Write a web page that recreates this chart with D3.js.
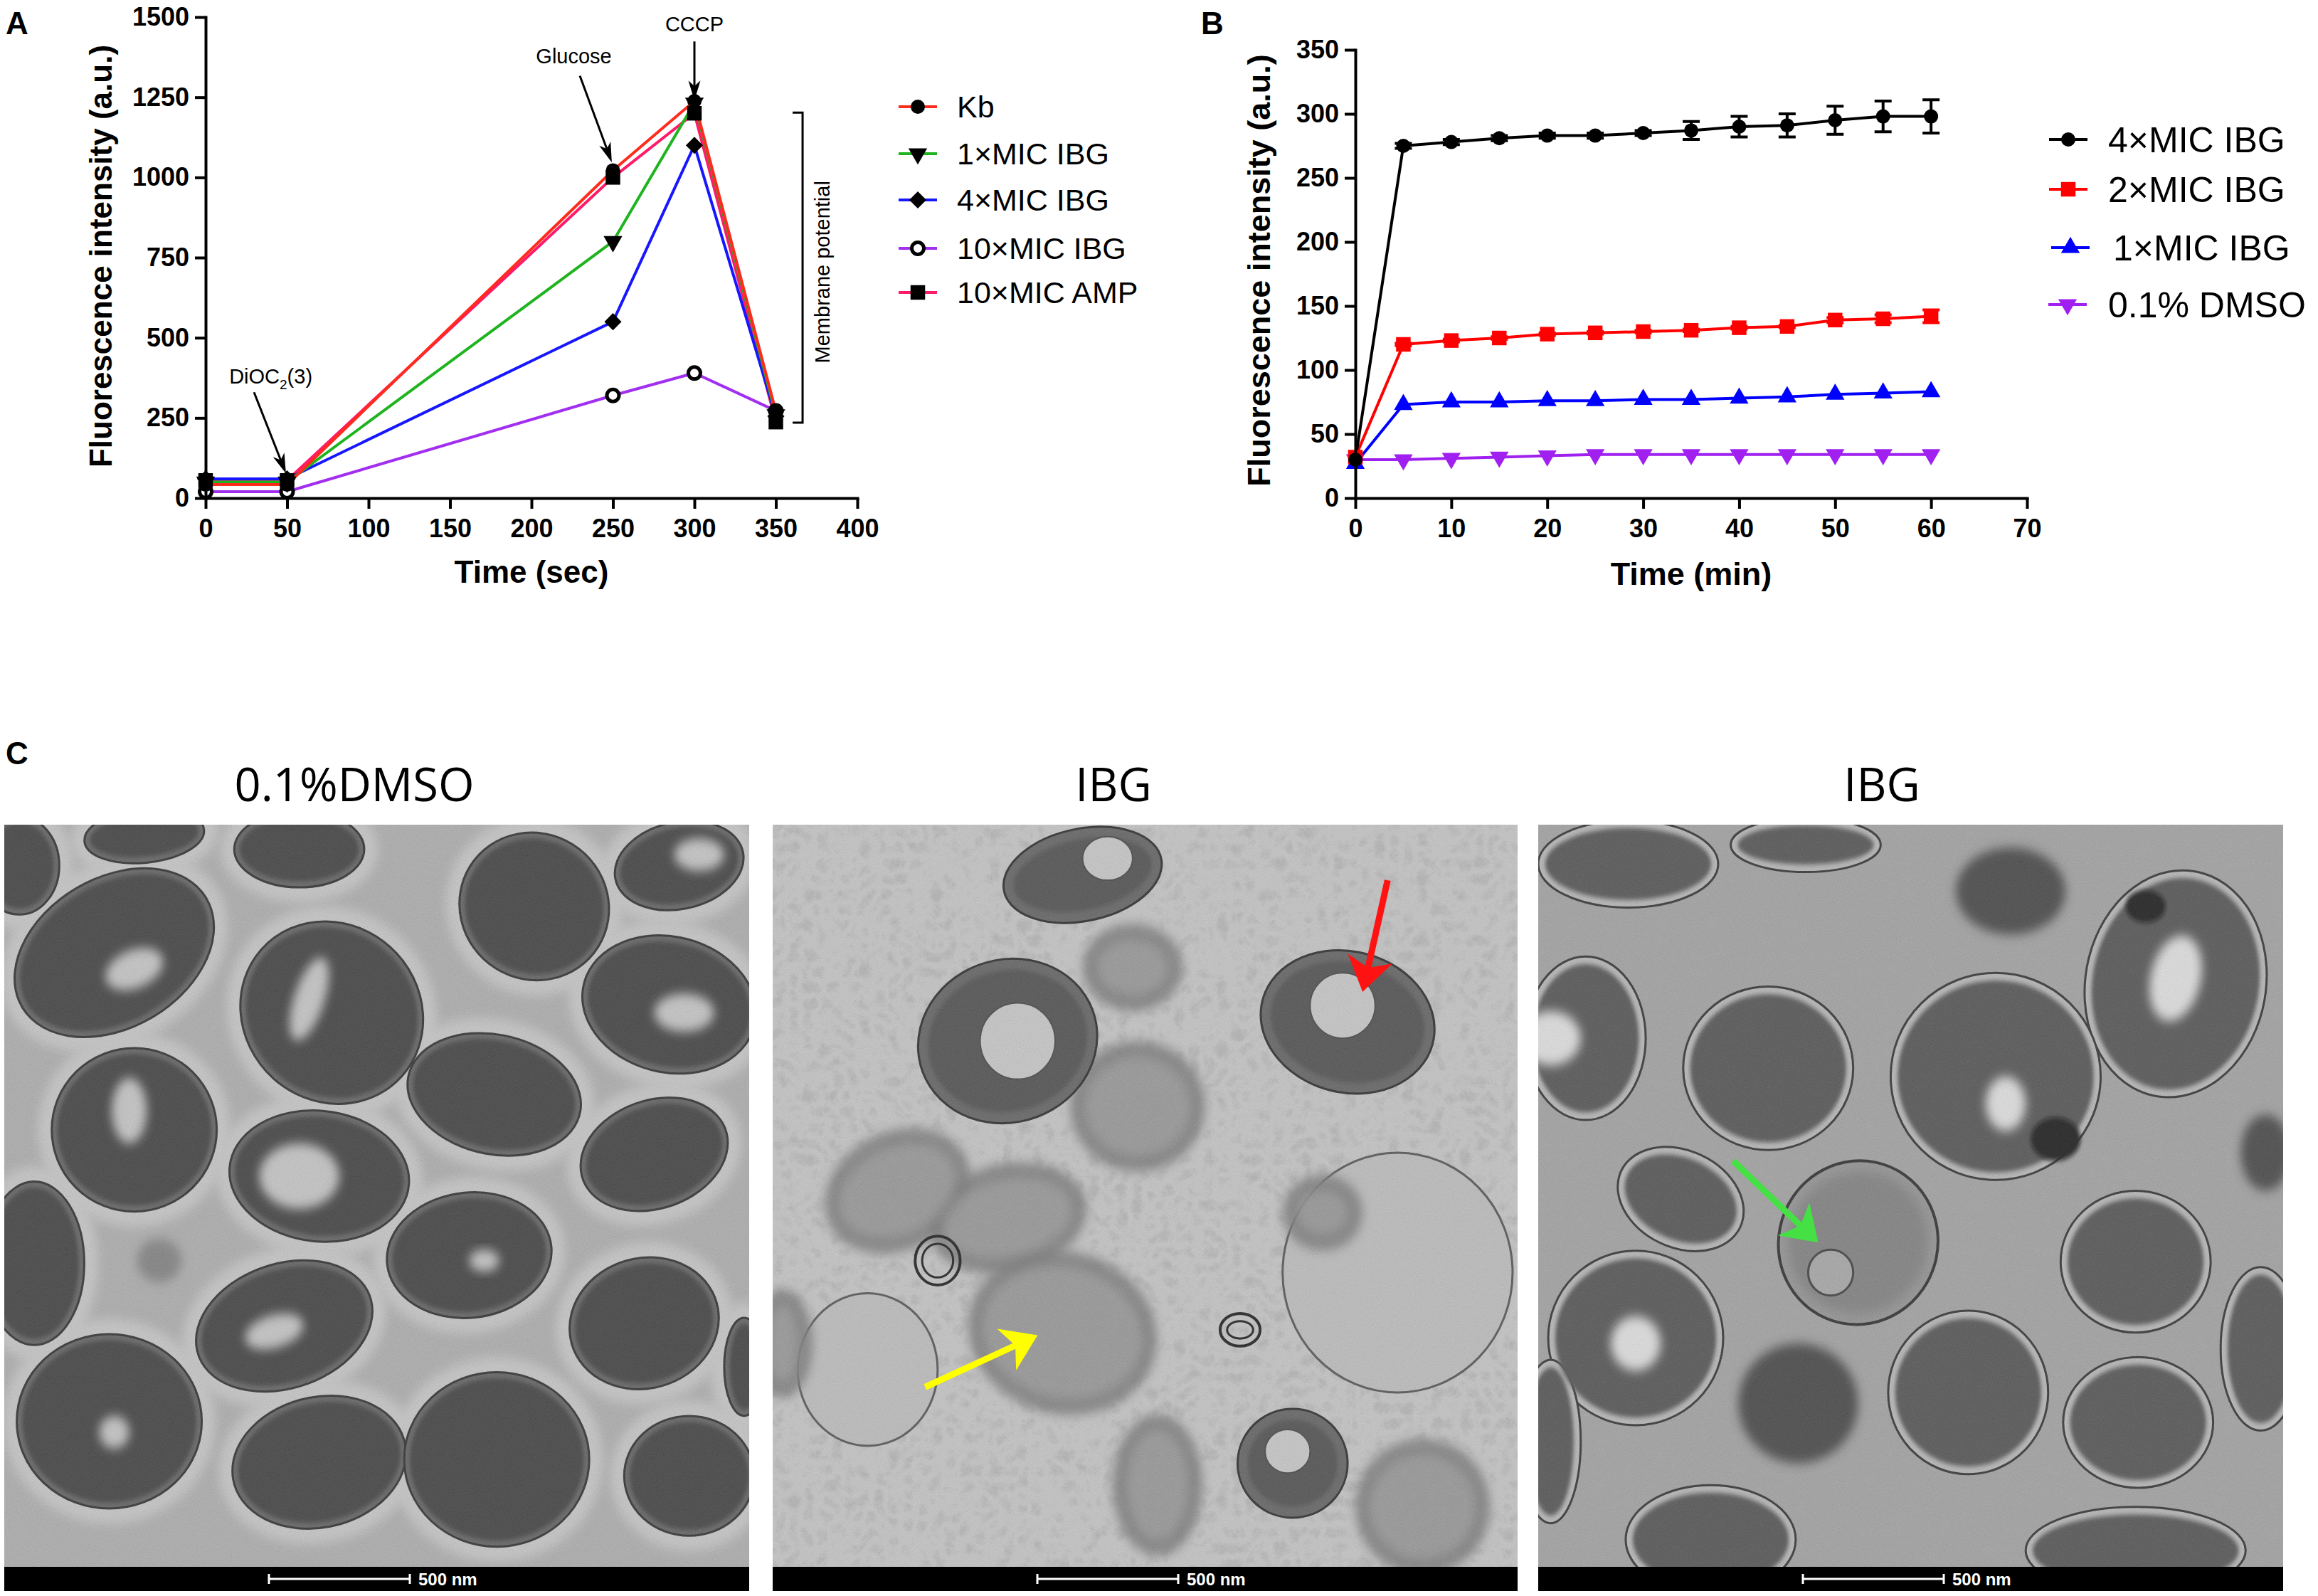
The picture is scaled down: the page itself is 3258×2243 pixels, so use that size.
<!DOCTYPE html>
<html><head><meta charset="utf-8">
<script src="https://cdn.jsdelivr.net/npm/d3@7"></script>
<style>body{margin:0;background:#fff} svg{display:block}</style>
</head><body>
<svg id="fig" width="3258" height="2243" xmlns="http://www.w3.org/2000/svg"></svg>
<script>
// ================= DATA =================
// Panel A
const timesA = [0, 50, 250, 300, 350];
const namesA = ["Kb", "1×MIC IBG", "4×MIC IBG", "10×MIC IBG", "10×MIC AMP"];
const kbA    = [42, 42, 1022, 1238, 270];
const mic1A  = [50, 50, 800, 1232, 260];
const mic4A  = [60, 60, 550, 1100, 255];
const mic10A = [20, 20, 320, 390, 272];
const ampA   = [55, 55, 1000, 1200, 237];
const colorsA = ["#ff2b1c", "#1fb41f", "#1717ff", "#a22ff0", "#ff1a6a"];
const symbolsA = ["circle", "down", "diamond", "open", "square"];
const xTicksA = [0, 50, 100, 150, 200, 250, 300, 350, 400];
const yTicksA = [0, 250, 500, 750, 1000, 1250, 1500];
// annotation anchors in data units [x, y]
const cccpArrow = [[300, 1424], [300, 1240]];
const glucoseArrow = [[229.7, 1317], [249.3, 1047]];
const diocArrow = [[29.7, 330], [49.3, 77]];
const bracketA = [360.3, 366.4, 235, 1202];

// Panel B
const timesB = [0, 5, 10, 15, 20, 25, 30, 35, 40, 45, 50, 55, 60];
const namesB = ["4×MIC IBG", "2×MIC IBG", "1×MIC IBG", "0.1% DMSO"];
const mic4B    = [30, 275, 278, 281, 283, 283, 285, 287, 290, 291, 295, 298, 298];
const mic4Berr = [0, 2, 2, 2, 2, 2, 2, 7, 8, 9, 11, 12, 13];
const mic2B    = [32, 120, 123, 125, 128, 129, 130, 131, 133, 134, 139, 140, 142];
const mic2Berr = [0, 1, 1, 1, 1, 1, 1, 1, 1, 1, 2, 3, 5];
const mic1B    = [27, 73, 75, 75, 76, 76, 77, 77, 78, 79, 81, 82, 83];
const dmsoB    = [30, 30, 31, 32, 33, 34, 34, 34, 34, 34, 34, 34, 34];
const colorsB = ["#000000", "#ff0000", "#0000ff", "#a020f0"];
const symbolsB = ["circle", "square", "up", "down"];
const xTicksB = [0, 10, 20, 30, 40, 50, 60, 70];
const yTicksB = [0, 50, 100, 150, 200, 250, 300, 350];

// Panel C (micrograph sketch, units of a 1490 x 1362 frame)
const titlesC = ["0.1%DMSO", "IBG", "IBG"];
// [cx, cy, rx, ry, rot]
const cellsC1 = [[30,75,80,90,0],[220,235,210,140,-25],[280,20,120,50,-5],[590,45,130,70,0],
  [1060,150,150,135,10],[1350,75,130,80,-10],[655,345,185,165,20],[1330,330,175,125,10],
  [260,560,165,150,0],[980,495,175,110,10],[630,645,180,120,5],[1300,605,150,100,-15],
  [60,805,100,150,0],[930,790,165,115,-5],[560,920,180,115,-15],[1280,915,150,120,-10],
  [210,1095,185,160,0],[630,1170,175,120,-10],[985,1165,185,160,0],[1370,1195,130,110,0],[1480,995,40,90,0]];
const spotsC1 = [[260,265,60,35,-20],[1390,55,50,30,0],[1360,345,60,35,0],[250,525,35,60,0],
  [590,645,80,60,0],[540,930,60,30,-15],[220,1115,30,30,0],[960,800,30,20,0],[610,320,30,80,20]];
const ringsC2 = [[470,397,180,150,-10,490,397,75,70],[1150,362,175,130,10,1140,332,65,60],
  [620,92,160,85,-10,670,62,50,40],[1040,1172,110,100,0,1030,1150,45,40]];
const blobsC2 = [[720,262,100,80,0],[250,672,150,110,-20],[1100,712,80,70,0],[1300,1252,135,125,0],
  [580,932,190,150,10],[470,722,160,100,-10],[730,517,135,120,0],[770,1212,90,130,0],[20,952,60,100,0]];
const ghostsC2 = [[1250,822,230,220,0],[190,1000,140,140,0]];
const smallRingsC2 = [[935,927,40,30,0],[330,800,45,45,0]];
const cellsC3 = [[180,72,180,80,0],[535,37,150,50,0],[1275,292,180,210,15],[95,392,120,150,0],
  [460,447,170,150,0],[915,462,210,190,0],[285,687,130,90,20],[1195,802,150,130,0],
  [195,942,175,160,0],[860,1042,160,150,0],[1200,1097,150,120,0],[1445,962,80,150,0],
  [345,1312,170,100,0],[1195,1332,220,80,0],[25,1132,60,150,0]];
const darkC3 = [[945,122,110,80,0],[520,1062,120,110,0],[1455,602,50,70,0]];
const spotsC3 = [[1275,282,50,80,15],[25,392,60,50,0],[935,512,40,50,0],[195,952,50,50,0]];
const greenCellC3 = [640,767,160,150,-10];
const arrowsC = [[1, 1230, 102, 1180, 307, "#ff1212"], [1, 305, 1032, 530, 937, "#ffff00"], [2, 390, 617, 560, 767, "#44e044"]];

// ================= DRAW =================
const F = "'Liberation Sans', Arial, Helvetica, sans-serif";
const svg = d3.select("#fig");
const defs = svg.append("defs");

function sym(g, type, x, y, color, size) {
  let s;
  if (type === "circle") s = g.append("circle").attr("cx", x).attr("cy", y).attr("r", size).attr("fill", color);
  else if (type === "open") s = g.append("circle").attr("cx", x).attr("cy", y).attr("r", size - 1.5)
      .attr("fill", "#fff").attr("stroke", color).attr("stroke-width", 5);
  else {
    const map = {square: [d3.symbolSquare, 0, 420], diamond: [d3.symbolSquare, 45, 290],
      up: [d3.symbolTriangle, 0, 300], down: [d3.symbolTriangle, 180, 300]};
    const m = map[type];
    s = g.append("path").attr("d", d3.symbol().type(m[0]).size(m[2])())
      .attr("transform", `translate(${x},${y}) rotate(${m[1]})`).attr("fill", color);
  }
  return s;
}

function arrow(g, x1, y1, x2, y2, color, w, hl, hw) {
  const dx = x2 - x1, dy = y2 - y1, L = Math.hypot(dx, dy), ux = dx / L, uy = dy / L, px = -uy, py = ux;
  const bx = x2 - ux * hl, by = y2 - uy * hl, nx = x2 - ux * hl * 0.72, ny = y2 - uy * hl * 0.72;
  g.append("line").attr("x1", x1).attr("y1", y1).attr("x2", nx).attr("y2", ny)
    .attr("stroke", color).attr("stroke-width", w);
  g.append("path").attr("d", `M${x2},${y2}L${bx + px * hw / 2},${by + py * hw / 2}L${nx},${ny}L${bx - px * hw / 2},${by - py * hw / 2}Z`)
    .attr("fill", color);
}

function styleAxis(sel, fs) {
  sel.selectAll("path.domain").attr("stroke", "#000").attr("stroke-width", 4).attr("stroke-linecap", "square");
  sel.selectAll(".tick line").attr("stroke", "#000").attr("stroke-width", 4);
  sel.selectAll(".tick text").attr("fill", "#000").attr("font-family", F).attr("font-weight", "bold").attr("font-size", fs);
}

// ---------- Panel A ----------
const xA = d3.scaleLinear().domain([0, 400]).range([289, 1205]);
const yA = d3.scaleLinear().domain([0, 1500]).range([700, 24]);
const gA = svg.append("g");
gA.append("text").text("A").attr("x", 8).attr("y", 48).attr("font-family", F).attr("font-weight", "bold").attr("font-size", 44);

const seriesA = [ampA, mic10A, mic4A, mic1A, kbA];
const idxA = [4, 3, 2, 1, 0];
const lineA = d3.line().x((d, i) => xA(timesA[i])).y(d => yA(d));
seriesA.forEach((s, k) => {
  gA.append("path").datum(s).attr("d", lineA).attr("fill", "none")
    .attr("stroke", colorsA[idxA[k]]).attr("stroke-width", 4).attr("stroke-linejoin", "round");
});
seriesA.forEach((s, k) => {
  s.forEach((v, i) => sym(gA, symbolsA[idxA[k]], xA(timesA[i]), yA(v), "#000", 10));
});

const axXA = gA.append("g").attr("transform", "translate(0,700)")
  .call(d3.axisBottom(xA).tickValues(xTicksA).tickSize(15).tickSizeOuter(0).tickPadding(14).tickFormat(d3.format("d")));
styleAxis(axXA, 36);
const axYA = gA.append("g").attr("transform", "translate(289,0)")
  .call(d3.axisLeft(yA).tickValues(yTicksA).tickSize(15).tickSizeOuter(0).tickPadding(8).tickFormat(d3.format("d")));
styleAxis(axYA, 36);

gA.append("text").text("Fluorescence intensity (a.u.)").attr("transform", "translate(141,360) rotate(-90)")
  .attr("text-anchor", "middle").attr("dy", "0.36em").attr("font-family", F).attr("font-weight", "bold").attr("font-size", 44);
gA.append("text").text("Time (sec)").attr("x", xA(200)).attr("y", 819)
  .attr("text-anchor", "middle").attr("font-family", F).attr("font-weight", "bold").attr("font-size", 44);

// annotations
const annF = "'Liberation Sans Narrow', 'Liberation Sans', Arial, sans-serif";
[cccpArrow, glucoseArrow, diocArrow].forEach(a =>
  arrow(gA, xA(a[0][0]), yA(a[0][1]), xA(a[1][0]), yA(a[1][1]), "#000", 3, 28, 17));
gA.append("text").text("CCCP").attr("x", xA(300)).attr("y", yA(1455)).attr("text-anchor", "middle")
  .attr("font-family", annF).attr("font-size", 29);
gA.append("text").text("Glucose").attr("x", xA(226)).attr("y", yA(1355)).attr("text-anchor", "middle")
  .attr("font-family", annF).attr("font-size", 29);
const dioc = gA.append("text").attr("x", xA(40)).attr("y", yA(358)).attr("text-anchor", "middle")
  .attr("font-family", annF).attr("font-size", 29);
dioc.append("tspan").text("DiOC");
dioc.append("tspan").text("2").attr("font-size", 19).attr("dy", 8);
dioc.append("tspan").text("(3)").attr("dy", -8);
gA.append("path").attr("d",
  `M${xA(bracketA[0])},${yA(bracketA[3])}H${xA(bracketA[1])}V${yA(bracketA[2])}H${xA(bracketA[0])}`)
  .attr("fill", "none").attr("stroke", "#000").attr("stroke-width", 3);
gA.append("text").text("Membrane potential")
  .attr("transform", `translate(${xA(378.6)},${yA(705)}) rotate(-90)`)
  .attr("text-anchor", "middle").attr("dy", "0.36em").attr("font-family", annF).attr("font-size", 29);

// legend A
const legA = gA.append("g");
const legAy = [150, 216, 281, 349, 411];
namesA.forEach((n, i) => {
  legA.append("line").attr("x1", 1263).attr("x2", 1317).attr("y1", legAy[i]).attr("y2", legAy[i])
    .attr("stroke", colorsA[i]).attr("stroke-width", 4);
  sym(legA, symbolsA[i], 1290, legAy[i], "#000", 10);
  legA.append("text").text(n).attr("x", 1345).attr("y", legAy[i]).attr("dy", "0.36em")
    .attr("font-family", F).attr("font-size", 43);
});

// ---------- Panel B ----------
const xB = d3.scaleLinear().domain([0, 70]).range([1905, 2849]);
const yB = d3.scaleLinear().domain([0, 350]).range([700, 70]);
const gB = svg.append("g");
gB.append("text").text("B").attr("x", 1688).attr("y", 48).attr("font-family", F).attr("font-weight", "bold").attr("font-size", 44);

const seriesB = [dmsoB, mic1B, mic2B, mic4B];
const errB = [null, null, mic2Berr, mic4Berr];
const idxB = [3, 2, 1, 0];
const lineB = d3.line().x((d, i) => xB(timesB[i])).y(d => yB(d));
seriesB.forEach((s, k) => {
  const c = colorsB[idxB[k]];
  gB.append("path").datum(s).attr("d", lineB).attr("fill", "none")
    .attr("stroke", c).attr("stroke-width", 4).attr("stroke-linejoin", "round");
});
seriesB.forEach((s, k) => {
  const c = colorsB[idxB[k]];
  const e = errB[k];
  s.forEach((v, i) => {
    if (e && e[i] > 0) {
      const x = xB(timesB[i]), y1 = yB(v - e[i]), y2 = yB(v + e[i]);
      gB.append("path").attr("d", `M${x},${y1}V${y2}M${x - 12},${y1}H${x + 12}M${x - 12},${y2}H${x + 12}`)
        .attr("stroke", c).attr("stroke-width", 4).attr("fill", "none");
    }
    sym(gB, symbolsB[idxB[k]], xB(timesB[i]), yB(v), c, 10);
  });
});

const axXB = gB.append("g").attr("transform", "translate(0,700)")
  .call(d3.axisBottom(xB).tickValues(xTicksB).tickSize(15).tickSizeOuter(0).tickPadding(14).tickFormat(d3.format("d")));
styleAxis(axXB, 36);
const axYB = gB.append("g").attr("transform", "translate(1905,0)")
  .call(d3.axisLeft(yB).tickValues(yTicksB).tickSize(15).tickSizeOuter(0).tickPadding(8).tickFormat(d3.format("d")));
styleAxis(axYB, 36);
gB.append("text").text("Fluorescence intensity (a.u.)").attr("transform", "translate(1769,380) rotate(-90)")
  .attr("text-anchor", "middle").attr("dy", "0.36em").attr("font-family", F).attr("font-weight", "bold").attr("font-size", 45);
gB.append("text").text("Time (min)").attr("x", xB(35)).attr("y", 822)
  .attr("text-anchor", "middle").attr("font-family", F).attr("font-weight", "bold").attr("font-size", 45);

const legB = gB.append("g");
const legBy = [196, 266, 348, 428];
const legBx = [2907, 2907, 2910, 2906];
const legBtx = [2963, 2963, 2970, 2963];
namesB.forEach((n, i) => {
  legB.append("line").attr("x1", legBx[i] - 27).attr("x2", legBx[i] + 27).attr("y1", legBy[i]).attr("y2", legBy[i])
    .attr("stroke", colorsB[i]).attr("stroke-width", 4);
  sym(legB, symbolsB[i], legBx[i], legBy[i], colorsB[i], 10);
  legB.append("text").text(n).attr("x", legBtx[i]).attr("y", legBy[i]).attr("dy", "0.36em")
    .attr("font-family", F).attr("font-size", 50);
});

// ---------- Panel C ----------
defs.html(`
  <filter id="b3" x="-20%" y="-20%" width="140%" height="140%"><feGaussianBlur stdDeviation="4"/></filter>
  <filter id="b8" x="-30%" y="-30%" width="160%" height="160%"><feGaussianBlur stdDeviation="10"/></filter>
  <filter id="noise" x="0" y="0" width="100%" height="100%">
    <feTurbulence type="fractalNoise" baseFrequency="0.75" numOctaves="2" seed="4"/>
    <feColorMatrix type="matrix" values="0.33 0.33 0.33 0 0  0.33 0.33 0.33 0 0  0.33 0.33 0.33 0 0  0 0 0 0 1"/>
  </filter>
  <filter id="debris" x="0" y="0" width="100%" height="100%">
    <feTurbulence type="turbulence" baseFrequency="0.035" numOctaves="3" seed="11"/>
    <feColorMatrix type="matrix" values="0 0 0 0 0.38  0 0 0 0 0.38  0 0 0 0 0.38  2.2 0 0 0 -0.55"/>
  </filter>
`);

const picLeft = [6, 1086, 2162];
const picW = 1047, picTop = 1159, picH = 1043, barH = 34;
const titleX = [498, 1565, 2645];
const uX = d3.scaleLinear().domain([0, 1490]).range([0, picW]);
const uY = d3.scaleLinear().domain([0, 1362]).range([0, picH]);
const sx = uX(1), sy = uY(1);

svg.append("text").text("C").attr("x", 8).attr("y", 1074).attr("font-family", F).attr("font-weight", "bold").attr("font-size", 44);

function ell(g, c, dr, attrs) {
  const e = g.append("ellipse").attr("cx", 0).attr("cy", 0)
    .attr("rx", Math.max(2, c[2] + dr)).attr("ry", Math.max(2, c[3] + dr))
    .attr("transform", `translate(${c[0]},${c[1]}) rotate(${c[4] || 0})`)
    .attr("vector-effect", "non-scaling-stroke");
  Object.entries(attrs).forEach(([k, v]) => e.attr(k, v));
  return e;
}

titlesC.forEach((t, p) => {
  const L = picLeft[p];
  const gP = svg.append("g");
  defs.append("clipPath").attr("id", "clip" + p).append("rect")
    .attr("x", L).attr("y", picTop).attr("width", picW).attr("height", picH);
  const gI = gP.append("g").attr("clip-path", `url(#clip${p})`);
  const bg = ["#a9a9a9", "#c3c3c3", "#9d9d9d"][p];
  gI.append("rect").attr("x", L).attr("y", picTop).attr("width", picW).attr("height", picH).attr("fill", bg);
  const gU = gI.append("g").attr("transform", `translate(${L},${picTop}) scale(${sx},${sy})`);

  if (p === 0) {
    cellsC1.forEach(c => ell(gU, c, 28, {fill: "#c4c4c4", filter: "url(#b8)"}));
    cellsC1.forEach(c => ell(gU, c, 0, {fill: "#5a5a5a", stroke: "#222", "stroke-width": 3}));
    cellsC1.forEach(c => ell(gU, c, -11, {fill: "#363636", filter: "url(#b3)"}));
    spotsC1.forEach(c => ell(gU, c, 0, {fill: "#dcdcdc", opacity: 0.85, filter: "url(#b8)"}));
    ell(gU, [310, 800, 45, 40, 0], 0, {fill: "#7a7a7a", filter: "url(#b8)"});
  } else if (p === 1) {
    gU.append("rect").attr("x", 0).attr("y", 0).attr("width", 1490).attr("height", 1362)
      .attr("filter", "url(#debris)").attr("opacity", 0.6);
    ghostsC2.forEach(c => ell(gU, c, 0, {fill: "#bababa", stroke: "#4a4a4a", "stroke-width": 3}));
    blobsC2.forEach(c => ell(gU, c, 0, {fill: "#6f6f6f", opacity: 0.85, filter: "url(#b8)"}));
    blobsC2.forEach(c => ell(gU, c, -30, {fill: "#a8a8a8", opacity: 0.5, filter: "url(#b8)"}));
    ringsC2.forEach(r => {
      ell(gU, r, 0, {fill: "#5a5a5a", stroke: "#1e1e1e", "stroke-width": 3});
      ell(gU, r, -20, {fill: "#454545", filter: "url(#b3)"});
      ell(gU, [r[5], r[6], r[7], r[8], 0], 0, {fill: "#c5c5c5", stroke: "#3a3a3a", "stroke-width": 2});
    });
    smallRingsC2.forEach(c => {
      ell(gU, c, 0, {fill: "none", stroke: "#111", "stroke-width": 4});
      ell(gU, c, -14, {fill: "none", stroke: "#111", "stroke-width": 3});
    });
  } else {
    gU.append("rect").attr("x", 0).attr("y", 0).attr("width", 1490).attr("height", 1362)
      .attr("filter", "url(#debris)").attr("opacity", 0.15);
    cellsC3.forEach(c => ell(gU, c, 0, {fill: "#b4b4b4", stroke: "#262626", "stroke-width": 3}));
    cellsC3.forEach(c => ell(gU, c, -14, {fill: "#4a4a4a", filter: "url(#b3)"}));
    darkC3.forEach(c => ell(gU, c, 0, {fill: "#3a3a3a", filter: "url(#b8)"}));
    spotsC3.forEach(c => ell(gU, c, 0, {fill: "#f0f0f0", opacity: 0.9, filter: "url(#b8)"}));
    ell(gU, [1035, 577, 50, 40, 0], 0, {fill: "#0a0a0a", filter: "url(#b3)"});
    ell(gU, [1215, 150, 40, 30, 0], 0, {fill: "#111", filter: "url(#b3)"});
    ell(gU, greenCellC3, 0, {fill: "#8e8e8e", stroke: "#222", "stroke-width": 4});
    ell(gU, greenCellC3, -20, {fill: "#6c6c6c", opacity: 0.6, filter: "url(#b8)"});
    ell(gU, [585, 822, 45, 42, 0], 0, {fill: "#a2a2a2", stroke: "#333", "stroke-width": 3});
  }
  gI.append("rect").attr("x", L).attr("y", picTop).attr("width", picW).attr("height", picH)
    .attr("filter", "url(#noise)").attr("opacity", 0.22);

  // arrows
  arrowsC.filter(a => a[0] === p).forEach(a =>
    arrow(gP, L + uX(a[1]), picTop + uY(a[2]), L + uX(a[3]), picTop + uY(a[4]), a[5], 9, 48, 64));

  // scale bar strip
  const barY = picTop + picH;
  gP.append("rect").attr("x", L).attr("y", barY).attr("width", picW).attr("height", barH).attr("fill", "#000");
  const sbY = barY + barH / 2;
  gP.append("path").attr("d", `M${L + 372},${sbY}H${L + 570}M${L + 372},${sbY - 7}V${sbY + 7}M${L + 570},${sbY - 7}V${sbY + 7}`)
    .attr("stroke", "#fff").attr("stroke-width", 3).attr("fill", "none");
  gP.append("text").text("500 nm").attr("x", L + 582).attr("y", sbY).attr("dy", "0.36em")
    .attr("fill", "#fff").attr("font-family", F).attr("font-weight", "bold").attr("font-size", 24);

  gP.append("text").text(t).attr("x", titleX[p]).attr("y", 1126).attr("text-anchor", "middle")
    .attr("font-family", "'Open Sans', 'Noto Sans', sans-serif").attr("font-size", 65).attr("fill", "#000");
});
</script>
</body></html>
